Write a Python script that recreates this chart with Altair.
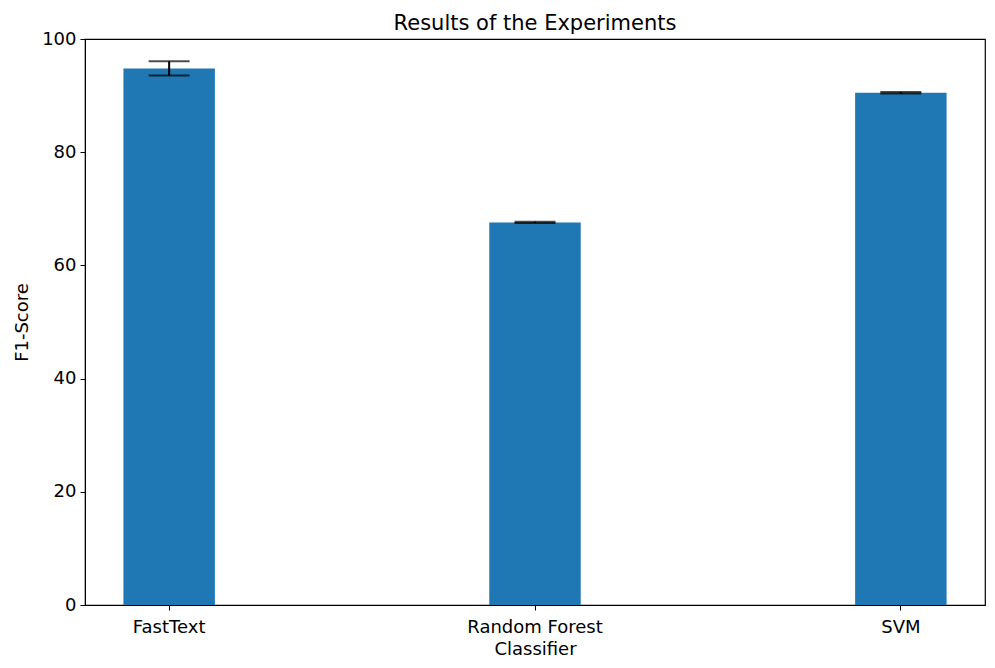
import altair as alt
import pandas as pd

classifiers = ["FastText", "Random Forest", "SVM"]
scores = [94.8, 67.6, 90.5]
errors = [1.25, 0.1, 0.15]

df = pd.DataFrame({"Classifier": classifiers, "score": scores, "err": errors})
df["lo"] = df["score"] - df["err"]
df["hi"] = df["score"] + df["err"]

FONT = "DejaVu Sans"
LBL = 18
xscale = alt.Scale(domain=classifiers, paddingInner=0.75, paddingOuter=0.105)
yscale = alt.Scale(domain=[0, 100], nice=False)

xenc = alt.X("Classifier:N", scale=xscale, sort=classifiers,
             axis=alt.Axis(title="Classifier", labelAngle=0, labelFontSize=LBL,
                           titleFontSize=LBL, labelFont=FONT, titleFont=FONT,
                           titleFontWeight="normal", labelColor="black", titleColor="black",
                           domainColor="black", tickColor="black", tickSize=5,
                           labelPadding=8, titlePadding=4))
yaxis = alt.Axis(title="F1-Score", values=[0, 20, 40, 60, 80, 100], grid=False,
                 labelFontSize=LBL, titleFontSize=LBL, labelFont=FONT, titleFont=FONT,
                 titleFontWeight="normal", labelColor="black", titleColor="black",
                 domainColor="black", tickColor="black", tickSize=5,
                 labelPadding=4, titlePadding=10)

base = alt.Chart(df)
bars = base.mark_bar(color="#1f77b4").encode(
    x=xenc, y=alt.Y("score:Q", scale=yscale, axis=yaxis))
rule = base.mark_rule(color="black", strokeWidth=2).encode(
    x=alt.X("Classifier:N", scale=xscale, sort=classifiers),
    y=alt.Y("lo:Q", scale=yscale), y2="hi:Q")
cap_lo = base.mark_tick(color="black", size=41, thickness=2).encode(
    x=alt.X("Classifier:N", scale=xscale, sort=classifiers),
    y=alt.Y("lo:Q", scale=yscale))
cap_hi = base.mark_tick(color="black", size=41, thickness=2).encode(
    x=alt.X("Classifier:N", scale=xscale, sort=classifiers),
    y=alt.Y("hi:Q", scale=yscale))

chart = alt.layer(bars, rule, cap_lo, cap_hi).properties(
    width=900, height=566,
    title=alt.Title("Results of the Experiments", fontSize=21, font=FONT,
                    fontWeight="normal", color="black", offset=-4),
    autosize=alt.AutoSizeParams(type="none"),
    padding={"left": 77, "top": 31, "right": 2, "bottom": 55},
).configure(background="white").configure_view(stroke="black", strokeWidth=1.2)

chart.save("out.html", embed_options={"renderer": "svg", "actions": False})
